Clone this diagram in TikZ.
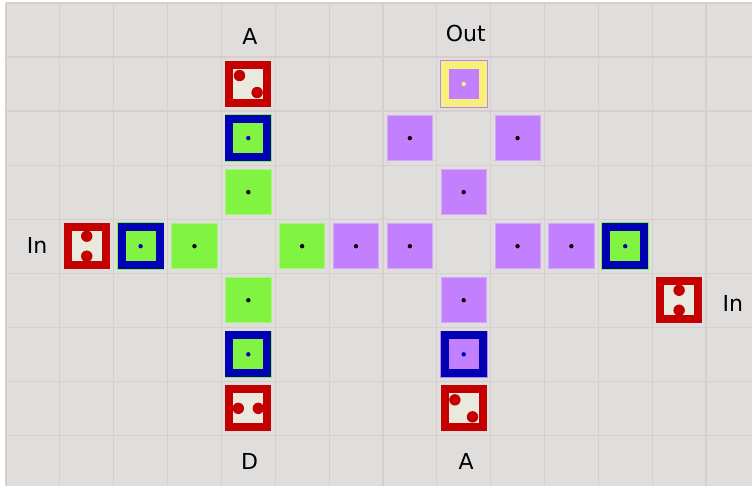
\documentclass[tikz,border=0pt]{standalone}
\usepackage{fontspec}
\setmainfont{DejaVu Sans}
\usetikzlibrary{positioning}
\definecolor{bggrey}{RGB}{224,222,220}
\definecolor{gridgrey}{RGB}{214,207,203}
\definecolor{tred}{RGB}{196,0,0}
\definecolor{tbeige}{RGB}{234,233,222}
\definecolor{tblue}{RGB}{0,0,180}
\definecolor{tgreen}{RGB}{128,244,64}
\definecolor{tpurple}{RGB}{194,128,255}
\definecolor{tyellow}{RGB}{244,240,120}

\begin{document}
\begin{tikzpicture}[
  x=1pt, y=1pt,
  node distance=54.05pt and 53.85pt, on grid,
  lbl/.style={font=\fontsize{22}{26}\selectfont, inner sep=0pt},
  plain/.style={draw=#1!70!white, line width=0.8pt, fill=#1, minimum size=45.2pt, inner sep=0pt,
    path picture={\fill[black] (path picture bounding box.center) circle (2.2pt);}},
  ring/.style 2 args={draw=#1, line width=8pt, fill=#2, minimum size=38pt, inner sep=0pt,
    preaction={draw=#2, line width=9.6pt},
    path picture={\fill[#1] (path picture bounding box.center) circle (2.2pt);}},
  die/.style 2 args={draw=tred, line width=8pt, fill=tbeige, minimum size=38pt, inner sep=0pt,
    path picture={\fill[tred] ([shift={#1}]path picture bounding box.center) circle (5.7pt)
      ([shift={#2}]path picture bounding box.center) circle (5.7pt);}}
]
\useasboundingbox (0,0) rectangle (752,-486);
\fill[white] (0,0) rectangle (752,-486);
\fill[bggrey] (6,-3) rectangle (752,-486);
\begin{scope}[shift={(6,-3)}]
  \draw[gridgrey, line width=1.2pt, xstep=53.85, ystep=54.05] (0,0) grid (746,-483);
\end{scope}

% left cross
\node[plain=tgreen] (ga1) at (248.3,-192.15) {};
\node[ring={tblue}{tgreen}, above=of ga1] (ba1) {};
\node[die={(-8.8pt,8.5pt)}{(8.8pt,-8.5pt)}, above=of ba1] (ra1) {};
\node[lbl, above=of ra1, xshift=1.7pt, yshift=-6.3pt] (la1) {A};
\node[plain=tgreen] (gd1) at (248.3,-300.25) {};
\node[ring={tblue}{tgreen}, below=of gd1] (bd1) {};
\node[die={(-10pt,0pt)}{(10pt,0pt)}, below=of bd1] (rd1) {};
\node[lbl, below=of rd1, xshift=1.2pt, yshift=0.9pt] (ld1) {D};
\node[plain=tgreen] (gl1) at (194.45,-246.2) {};
\node[ring={tblue}{tgreen}, left=of gl1] (bl1) {};
\node[die={(0pt,10pt)}{(0pt,-10pt)}, left=of bl1] (rl1) {};
\node[lbl, left=of rl1, xshift=4.3pt, yshift=0.7pt] (ll1) {In};
\node[plain=tgreen] (gr1) at (302.15,-246.2) {};

% right cross
\node[plain=tpurple] (pl2) at (409.85,-246.2) {};
\node[plain=tpurple, left=of pl2] (pl3) {};
\node[plain=tpurple] (pr2) at (517.55,-246.2) {};
\node[plain=tpurple, right=of pr2] (pr3) {};
\node[ring={tblue}{tgreen}, right=of pr3] (br2) {};
\node[die={(0pt,10pt)}{(0pt,-10pt)}, below right=54.05pt and 53.85pt of br2] (rr2) {};
\node[lbl, right=of rr2, yshift=-3.5pt] (lr2) {In};
\node[plain=tpurple] (pa2) at (463.7,-192.15) {};
\node[plain=tpurple, above left=54.05pt and 53.85pt of pa2] (pal2) {};
\node[plain=tpurple, above right=54.05pt and 53.85pt of pa2] (par2) {};
\node[ring={tyellow}{tpurple}, above=108.1pt of pa2] (ya2) {};
\node[lbl, above=of ya2, xshift=2pt, yshift=-3.4pt] (la2) {Out};
\node[plain=tpurple] (pd2) at (463.7,-300.25) {};
\node[ring={tblue}{tpurple}, below=of pd2] (bd2) {};
\node[die={(-8.8pt,8.5pt)}{(8.8pt,-8.5pt)}, below=of bd2] (rd2) {};
\node[lbl, below=of rd2, xshift=2.5pt, yshift=0.9pt] (ld2) {A};
\end{tikzpicture}
\end{document}
